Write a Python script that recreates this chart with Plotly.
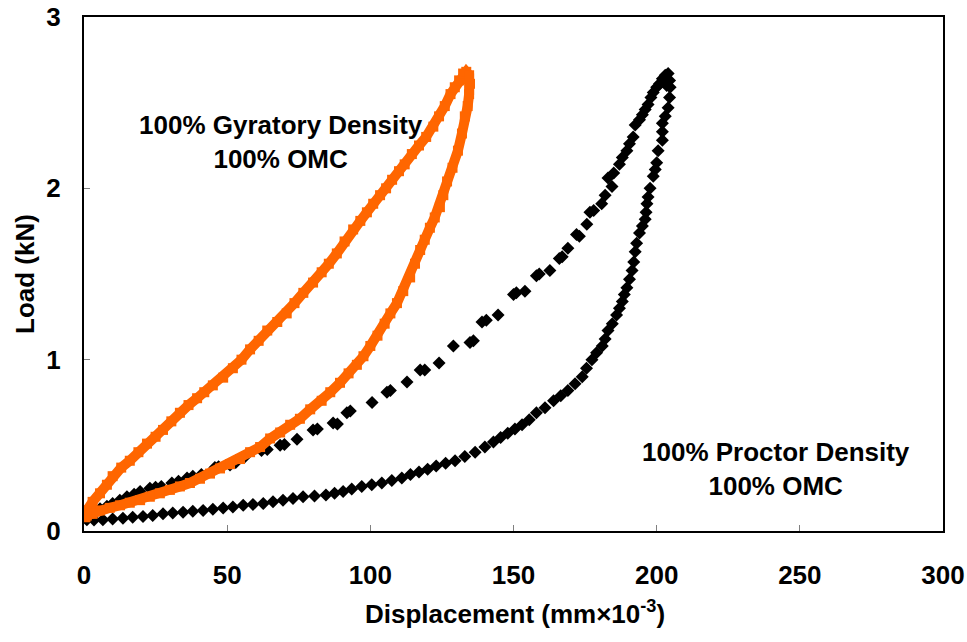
import plotly.graph_objects as go

# ---- data (Displacement mm x 10^-3, Load kN) ----
gyr_up_x = [0.5, 1, 3, 5.6, 8, 10, 13, 16, 19, 22, 25, 27.6, 30.5, 33.5, 36.5, 39.5, 42, 45, 48.6,
            52, 55, 58, 61, 64, 67.5, 70.8, 73.5, 76.6, 80, 83, 85.5, 88.3, 91, 94, 96.5, 98.8,
            101, 103.4, 105.5, 107.6, 110, 112, 114.5, 117, 119.5, 122, 124, 126, 128, 129.5,
            131, 132.4, 133.5]
gyr_up_y = [0.08, 0.12, 0.17, 0.22, 0.27, 0.32, 0.37, 0.41, 0.46, 0.51, 0.55, 0.59, 0.64, 0.69,
            0.735, 0.775, 0.81, 0.85, 0.895, 0.95, 1.00, 1.06, 1.11, 1.17, 1.22, 1.27, 1.33, 1.39,
            1.45, 1.51, 1.56, 1.62, 1.69, 1.76, 1.81, 1.86, 1.91, 1.96, 2.00, 2.05, 2.10, 2.14,
            2.20, 2.25, 2.30, 2.36, 2.42, 2.48, 2.55, 2.59, 2.63, 2.67, 2.68]

gyr_dn_x = [134.5, 134.8, 134.5, 134, 133, 132, 130.6, 128.7, 126.8, 125.5, 124.3, 122.5, 120.8,
            119, 117.4, 115.6, 113.9, 111.5, 109.3, 107, 105, 102.5, 100, 97.6, 95.3, 92.4, 89.4,
            86, 83, 79, 75.4, 72, 68.5, 65, 61.5, 58, 54.5, 51, 47.5, 44, 40.5, 37, 33.5, 30,
            26.5, 23, 19.6, 16, 12.6, 9, 5.6, 3, 1]
gyr_dn_y = [2.66, 2.61, 2.55, 2.48, 2.42, 2.32, 2.22, 2.12, 2.04, 1.96, 1.89, 1.83, 1.77, 1.70,
            1.64, 1.56, 1.48, 1.40, 1.33, 1.27, 1.21, 1.14, 1.08, 1.02, 0.97, 0.92, 0.865, 0.81,
            0.76, 0.71, 0.655, 0.62, 0.575, 0.54, 0.49, 0.46, 0.42, 0.39, 0.365, 0.335, 0.305,
            0.28, 0.26, 0.24, 0.22, 0.20, 0.18, 0.165, 0.15, 0.135, 0.12, 0.10, 0.09]

pro_up_x = [1, 3, 5.6, 8, 10, 12.5, 15, 17.5, 19.6, 23, 25, 27, 30.7, 33, 36, 38, 41, 45.7, 47,
            51, 53, 56, 62, 64, 68.5, 70, 74.4, 80, 81.5, 87, 88.5, 91.8, 93, 100.6, 105.8, 107,
            112.8, 117.4, 119, 124, 129, 134.8, 136, 139, 140.5, 144.6, 150, 151, 154, 158, 159,
            162.7, 166, 167, 169, 172, 173, 175.6, 176.7, 178, 180.8, 182, 184.4, 183, 185, 187,
            188, 189.6, 190.5, 191.8, 192.5, 194, 195, 196, 197, 198, 198.8, 200, 201, 202, 203,
            204, 202.5, 203.5]
pro_up_y = [0.08, 0.10, 0.13, 0.145, 0.16, 0.18, 0.20, 0.215, 0.23, 0.25, 0.255, 0.26, 0.28,
            0.29, 0.31, 0.32, 0.33, 0.37, 0.375, 0.385, 0.40, 0.43, 0.47, 0.475, 0.50, 0.505,
            0.535, 0.59, 0.595, 0.63, 0.625, 0.69, 0.70, 0.75, 0.81, 0.82, 0.87, 0.94, 0.94, 0.98,
            1.08, 1.10, 1.11, 1.22, 1.23, 1.26, 1.38, 1.39, 1.40, 1.49, 1.50, 1.52, 1.59, 1.60,
            1.65, 1.73, 1.72, 1.79, 1.86, 1.87, 1.91, 1.96, 2.01, 2.06, 2.09, 2.14, 2.18, 2.22,
            2.26, 2.30, 2.37, 2.40, 2.43, 2.46, 2.49, 2.53, 2.56, 2.59, 2.61, 2.64, 2.66, 2.67,
            2.62, 2.60]

pro_dn_x = [204.5, 204.7, 204.5, 204, 203, 202, 202, 202, 200.5, 200, 199.5, 198.8, 197.7, 197,
            196.6, 196.3, 196, 195, 194, 193, 192.5, 192, 191.4, 190.5, 189.6, 188.7, 188, 187,
            186, 184.5, 183, 182, 181, 179, 177.4, 175.5, 174, 171.5, 169, 166.5, 164, 161, 158,
            155.5, 153, 150.5, 148, 145.5, 143, 140, 136.6, 133, 129.6, 126.3, 123, 120, 117,
            114, 111, 107.5, 104, 100.5, 97, 93.5, 90.5, 87.5, 84.5, 80.5, 76.5, 73, 69.5, 66,
            62.6, 59, 55.6, 52, 48.6, 45, 41.6, 38, 34.6, 31, 27.6, 24, 20.6, 17, 13.6, 10, 6.6,
            3.5, 1]
pro_dn_y = [2.63, 2.59, 2.53, 2.47, 2.42, 2.38, 2.33, 2.28, 2.22, 2.15, 2.11, 2.07, 2.00, 1.95,
            1.91, 1.86, 1.82, 1.78, 1.74, 1.68, 1.63, 1.57, 1.52, 1.47, 1.42, 1.38, 1.34, 1.30,
            1.26, 1.21, 1.17, 1.12, 1.08, 1.04, 1.00, 0.95, 0.90, 0.86, 0.82, 0.79, 0.76, 0.72,
            0.69, 0.65, 0.62, 0.595, 0.57, 0.545, 0.52, 0.49, 0.46, 0.435, 0.41, 0.395, 0.38,
            0.36, 0.345, 0.33, 0.31, 0.295, 0.28, 0.27, 0.26, 0.245, 0.23, 0.22, 0.21, 0.205,
            0.20, 0.19, 0.18, 0.17, 0.16, 0.155, 0.15, 0.14, 0.134, 0.127, 0.12, 0.115, 0.11,
            0.105, 0.10, 0.09, 0.085, 0.08, 0.075, 0.07, 0.066, 0.064, 0.065]

x_ticks = [0, 50, 100, 150, 200, 250, 300]
y_ticks = [0, 1, 2, 3]

ORANGE = "#FF6600"
FONT = "Liberation Sans, Arial, sans-serif"

fig = go.Figure()

fig.add_trace(go.Scatter(x=pro_up_x + pro_dn_x, y=pro_up_y + pro_dn_y, mode="markers",
                         marker=dict(symbol="diamond", size=10, color="black",
                                     line=dict(width=0)),
                         showlegend=False))
fig.add_trace(go.Scatter(x=gyr_up_x + gyr_dn_x, y=gyr_up_y + gyr_dn_y, mode="lines+markers",
                         line=dict(color=ORANGE, width=10),
                         marker=dict(symbol="square", size=10, color=ORANGE, line=dict(width=0)),
                         showlegend=False))

axis_common = dict(showline=True, linecolor="black", linewidth=2, mirror=True,
                   showgrid=False, zeroline=False, ticks="inside", ticklen=6,
                   tickcolor="#808080", tickwidth=1, automargin=False,
                   tickfont=dict(family=FONT, size=26, color="black", weight="bold"))

fig.update_xaxes(range=[0, 300], tickvals=x_ticks, ticktext=[str(v) for v in x_ticks],
                 ticklabelstandoff=20, **axis_common)
fig.update_yaxes(range=[0, 3], tickvals=y_ticks, ticktext=[str(v) for v in y_ticks],
                 ticklabelstandoff=16, **axis_common)

bold = dict(family=FONT, size=26, color="black", weight="bold")
fig.add_annotation(x=68.8, y=2.27, xref="x", yref="y", showarrow=False,
                   text="100% Gyratory Density<br>100% OMC", font=bold, align="center")
fig.add_annotation(x=241.7, y=0.36, xref="x", yref="y", showarrow=False,
                   text="100% Proctor Density<br>100% OMC", font=bold, align="center")
# axis titles (paper coords are relative to the plot area)
fig.add_annotation(x=(515 - 84) / 859, y=(531 - 613) / 514, xref="paper", yref="paper",
                   showarrow=False, text="Displacement (mm×10<sup>-3</sup>)", font=bold,
                   xanchor="center", yanchor="middle")
fig.add_annotation(x=(25 - 84) / 859, y=0.5, xref="paper", yref="paper", showarrow=False,
                   text="Load (kN)", font=bold, textangle=-90,
                   xanchor="center", yanchor="middle")

fig.update_layout(width=967, height=642, margin=dict(l=84, r=24, t=17, b=111),
                  paper_bgcolor="white", plot_bgcolor="white")

fig.write_html("out.html")
